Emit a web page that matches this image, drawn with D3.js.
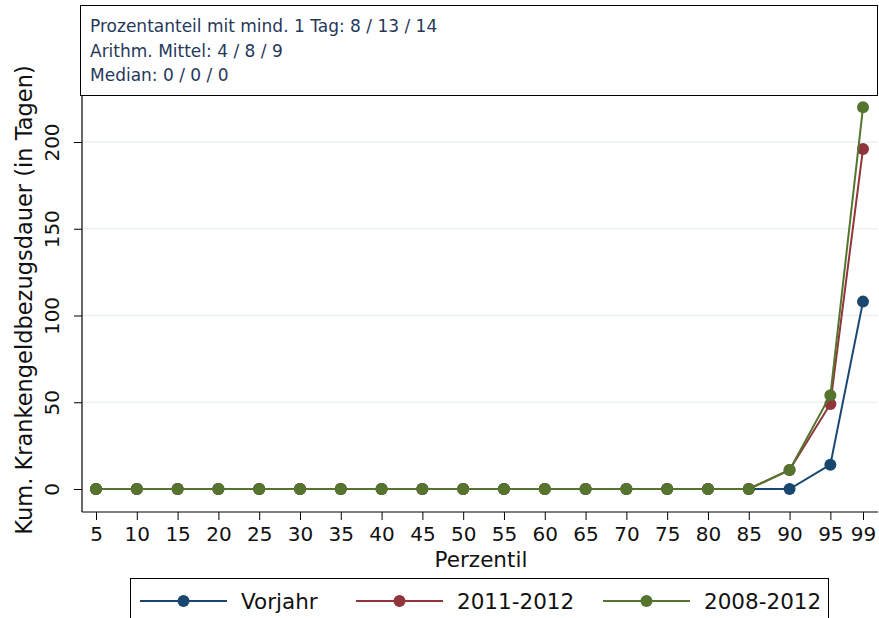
<!DOCTYPE html>
<html>
<head>
<meta charset="utf-8">
<script src="https://cdn.jsdelivr.net/npm/d3@7"></script>
<style>
  html, body { margin: 0; padding: 0; background: #fff; }
  svg { display: block; }
  text { font-family: "DejaVu Sans", sans-serif; }
</style>
</head>
<body>
<svg id="chart" width="879" height="618"></svg>
<script>
// Percentiles on the x axis
const percentiles = [5, 10, 15, 20, 25, 30, 35, 40, 45, 50, 55, 60, 65, 70, 75, 80, 85, 90, 95, 99];

// Cumulative sick-pay days per percentile
const vorjahr    = [0, 0, 0, 0, 0, 0, 0, 0, 0, 0, 0, 0, 0, 0, 0, 0, 0, 0, 14, 108];
const jahre1112  = [0, 0, 0, 0, 0, 0, 0, 0, 0, 0, 0, 0, 0, 0, 0, 0, 0, 11, 49, 196];
const jahre0812  = [0, 0, 0, 0, 0, 0, 0, 0, 0, 0, 0, 0, 0, 0, 0, 0, 0, 11, 54, 220];

const seriesNames  = ["Vorjahr", "2011-2012", "2008-2012"];
const seriesColors = ["#1a476f", "#90353b", "#55752f"];
const seriesValues = [vorjahr, jahre1112, jahre0812];

const yTicks = [0, 50, 100, 150, 200];
const infoLines = [
  "Prozentanteil mit mind. 1 Tag: 8 / 13 / 14",
  "Arithm. Mittel: 4 / 8 / 9",
  "Median: 0 / 0 / 0"
];

const svg = d3.select("#chart");

// plot region
const plot = { left: 82, right: 878, top: 95, bottom: 512 };

const x = d3.scaleLinear().domain([5, 99]).range([96, 863]);
const y = d3.scaleLinear().domain([0, 200]).range([489, 142]);

// info box above the plot
svg.append("rect")
  .attr("x", 80.5).attr("y", 5.5)
  .attr("width", 797).attr("height", plot.top - 5)
  .attr("fill", "#fff").attr("stroke", "#000").attr("stroke-width", 1);

svg.append("g").selectAll("text").data(infoLines).join("text")
  .attr("x", 90)
  .attr("y", (d, i) => 32 + i * 24.5)
  .attr("font-size", 17)
  .attr("fill", "#26385a")
  .text(d => d);

// gridlines
svg.append("g").selectAll("line").data(yTicks.filter(t => t > 0)).join("line")
  .attr("x1", plot.left).attr("x2", plot.right)
  .attr("y1", d => y(d)).attr("y2", d => y(d))
  .attr("stroke", "#eaf2f3").attr("stroke-width", 1.5);

// y axis
const yAxis = svg.append("g")
  .attr("transform", `translate(${plot.left},0)`)
  .call(d3.axisLeft(y).tickValues(yTicks).tickSize(8).tickPadding(4));
yAxis.select(".domain").attr("d", `M0,${plot.top}V${plot.bottom}`).attr("stroke", "#000").attr("stroke-width", 1.2);
yAxis.selectAll(".tick line").attr("stroke", "#000");
yAxis.selectAll(".tick text")
  .attr("font-size", 20)
  .attr("fill", "#111")
  .attr("text-anchor", "middle")
  .attr("x", null).attr("dy", null)
  .attr("transform", "translate(-23,0) rotate(-90)")
  .attr("y", 0)
  .attr("dominant-baseline", "auto");

// x axis
const xAxis = svg.append("g")
  .attr("transform", `translate(0,${plot.bottom})`)
  .call(d3.axisBottom(x).tickValues(percentiles).tickFormat(d3.format("d")).tickSize(8).tickPadding(6));
xAxis.select(".domain").attr("d", `M${plot.left},0H${plot.right}`).attr("stroke", "#000").attr("stroke-width", 1.2);
xAxis.selectAll(".tick line").attr("stroke", "#000");
xAxis.selectAll(".tick text")
  .attr("font-size", 20).attr("fill", "#111")
  .attr("dy", null).attr("y", 29);

// axis titles
svg.append("text")
  .attr("x", 481).attr("y", 567)
  .attr("text-anchor", "middle")
  .attr("font-size", 21.5).attr("fill", "#111")
  .text("Perzentil");

svg.append("text")
  .attr("transform", `translate(32,300) rotate(-90)`)
  .attr("text-anchor", "middle")
  .attr("font-size", 22.5).attr("fill", "#111")
  .text("Kum. Krankengeldbezugsdauer (in Tagen)");

// series lines and markers
const line = d3.line().x((d, i) => x(percentiles[i])).y(d => y(d));
seriesValues.forEach((vals, s) => {
  const g = svg.append("g");
  g.append("path")
    .datum(vals)
    .attr("d", line)
    .attr("fill", "none")
    .attr("stroke", seriesColors[s])
    .attr("stroke-width", 2);
  g.selectAll("circle").data(vals).join("circle")
    .attr("cx", (d, i) => x(percentiles[i]))
    .attr("cy", d => y(d))
    .attr("r", 6)
    .attr("fill", seriesColors[s]);
});

// legend
svg.append("rect")
  .attr("x", 130.5).attr("y", 578.5)
  .attr("width", 698).attr("height", 60)
  .attr("fill", "#fff").attr("stroke", "#000").attr("stroke-width", 1);

const legendX = [140, 356, 603];
seriesNames.forEach((name, s) => {
  const g = svg.append("g").attr("transform", `translate(${legendX[s]},601)`);
  g.append("line").attr("x1", 0).attr("x2", 87).attr("y1", 0).attr("y2", 0)
    .attr("stroke", seriesColors[s]).attr("stroke-width", 2);
  g.append("circle").attr("cx", 43.5).attr("cy", 0).attr("r", 6).attr("fill", seriesColors[s]);
  g.append("text").attr("x", 101).attr("y", 8)
    .attr("font-size", 21.5).attr("fill", "#111")
    .text(name);
});
</script>
</body>
</html>
